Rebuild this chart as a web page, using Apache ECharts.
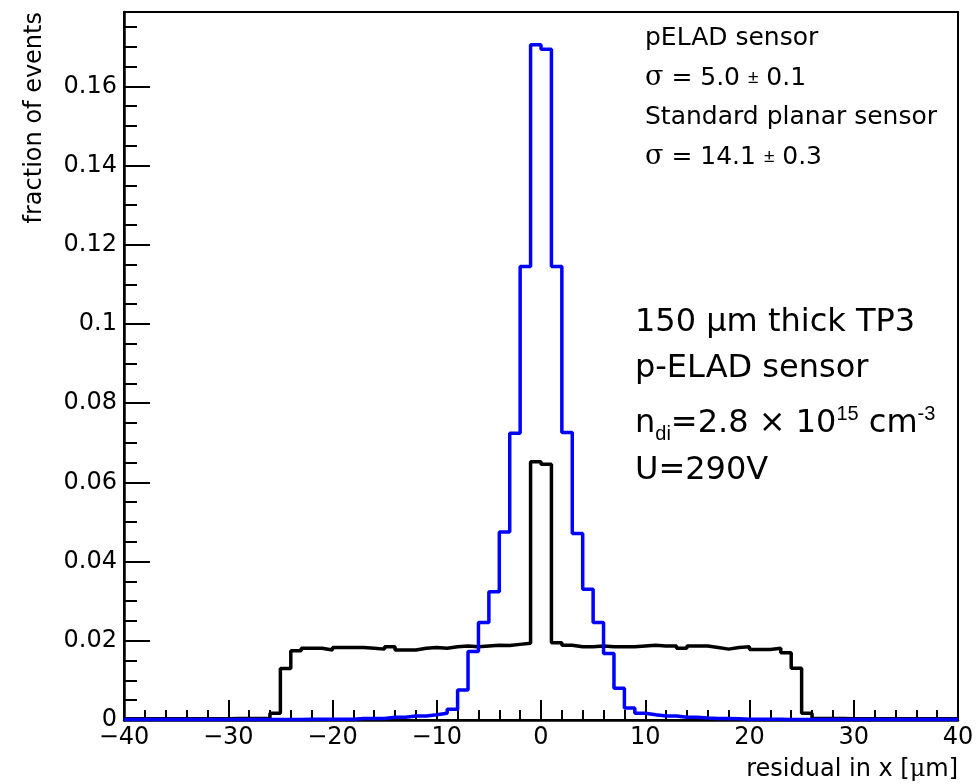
<!DOCTYPE html>
<html>
<head>
<meta charset="utf-8">
<script src="https://cdn.jsdelivr.net/npm/echarts@6/dist/echarts.min.js"></script>
<style>
  html, body { margin: 0; padding: 0; background: #fff; }
  #chart { width: 978px; height: 784px; }
</style>
</head>
<body>
<div id="chart"></div>
<script>
// histogram binning: 80 bins of 1 um from -40 to 40
const X_MIN = -40;
const X_MAX = 40;
const BIN_W = 1;

// standard planar sensor (black), bins -40 .. 39
const planar = [
  0.0003, 0.0003, 0.0003, 0.0003, 0.0003, 0.0003, 0.0003, 0.0003, 0.0003, 0.0003,
  0.0004, 0.0004, 0.0004, 0.0004,
  0.0017, 0.0130, 0.0175, 0.0181, 0.0181, 0.0177, 0.0183, 0.0183, 0.0183, 0.0181,
  0.0179, 0.0185, 0.0177, 0.0177, 0.0181, 0.0183, 0.0181, 0.0185, 0.0187, 0.0185,
  0.0187, 0.0189, 0.0188, 0.0191, 0.0194, 0.0652,
  0.0646, 0.0195, 0.0189, 0.0185, 0.0185, 0.0187, 0.0185, 0.0185, 0.0185, 0.0187,
  0.0189, 0.0187, 0.0187, 0.0181, 0.0187, 0.0187, 0.0183, 0.0179, 0.0183, 0.0185,
  0.0178, 0.0178, 0.0181, 0.0170, 0.0131, 0.0017,
  0.0004, 0.0004, 0.0004, 0.0003, 0.0003, 0.0003, 0.0003, 0.0003, 0.0003, 0.0003,
  0.0003, 0.0003, 0.0003, 0.0003
];

// pELAD sensor (blue), bins -40 .. 39
const pelad = [
  0.0001, 0.0001, 0.0001, 0.0001, 0.0001, 0.0001, 0.0001, 0.0001, 0.0001, 0.0001,
  0.0001, 0.0001, 0.0001, 0.0001, 0.0001, 0.0001, 0.0001,
  0.0002, 0.0002, 0.0002, 0.0002, 0.0002,
  0.0004, 0.0004, 0.0004,
  0.0007, 0.0007, 0.0010, 0.0010, 0.0013, 0.0017, 0.0027, 0.0076, 0.0173, 0.0246,
  0.0324, 0.0475, 0.0724, 0.1145, 0.1705,
  0.1694, 0.1145, 0.0726, 0.0471, 0.0330, 0.0246, 0.0168, 0.0080, 0.0030, 0.0017,
  0.0013, 0.0010, 0.0010, 0.0007, 0.0007, 0.0005, 0.0004, 0.0004, 0.0003,
  0.0002, 0.0002, 0.0002, 0.0002,
  0.0001, 0.0001, 0.0001, 0.0001, 0.0001, 0.0001, 0.0001, 0.0001, 0.0001, 0.0001,
  0.0001, 0.0001, 0.0001, 0.0001, 0.0001, 0.0001, 0.0001
];

const X_TICK = 10;
const Y_TICK = 0.02;
const Y_MAX = 0.1788;

const FONT = 'DejaVu Sans';

// step histogram: point at each low edge, plus closing point at upper edge
function histData(vals) {
  const pts = vals.map((v, i) => [X_MIN + i * BIN_W, v]);
  pts.push([X_MAX, vals[vals.length - 1]]);
  return pts;
}

const fmtX = v => (v < 0 ? '\u2212' + (-v) : String(v));
const fmtY = v => {
  const k = v / Y_TICK;
  if (Math.abs(k - Math.round(k)) > 1e-6) return '';
  return String(+v.toFixed(2));
};

const chart = echarts.init(document.getElementById('chart'), null, { renderer: 'canvas' });

chart.setOption({
  animation: false,
  backgroundColor: '#fff',
  grid: {
    left: 124, right: 20, top: 12, bottom: 64,
    show: true, borderColor: '#000', borderWidth: 2, backgroundColor: 'transparent',
  },
  xAxis: {
    type: 'value', min: X_MIN, max: X_MAX, interval: X_TICK,
    axisLine: { onZero: false, lineStyle: { color: '#000', width: 2.5 } },
    axisTick: { inside: true, length: 20, lineStyle: { color: '#000', width: 2 } },
    minorTick: { show: true, splitNumber: 5, length: 10, lineStyle: { color: '#000', width: 2 } },
    splitLine: { show: false },
    axisLabel: { color: '#000', fontSize: 24, fontFamily: FONT, margin: 6, formatter: fmtX },
  },
  yAxis: {
    type: 'value', min: 0, max: Y_MAX, interval: Y_TICK,
    axisLine: { onZero: false, lineStyle: { color: '#000', width: 2.5 } },
    axisTick: { inside: true, length: 26, lineStyle: { color: '#000', width: 2 } },
    minorTick: { show: true, splitNumber: 4, length: 13, lineStyle: { color: '#000', width: 2 } },
    splitLine: { show: false },
    axisLabel: { color: '#000', fontSize: 24, fontFamily: FONT, margin: 7, formatter: fmtY },
  },
  series: [
    {
      name: 'Standard planar sensor', type: 'line', step: 'end', symbol: 'none',
      data: histData(planar),
      lineStyle: { color: '#000', width: 3.5 },
    },
    {
      name: 'pELAD sensor', type: 'line', step: 'end', symbol: 'none',
      data: histData(pelad),
      lineStyle: { color: '#0000ff', width: 3.5 },
    },
  ],
  graphic: [
    // axis titles
    {
      type: 'text', x: 958, y: 770,
      style: {
        text: 'residual in x [{g|\u03bc}m]', align: 'right', verticalAlign: 'middle',
        font: '24px "DejaVu Sans"', fill: '#000',
        rich: { g: { fontFamily: 'DejaVu Serif', fontSize: 24 } },
      },
    },
    {
      type: 'text', x: 35, y: 12, rotation: Math.PI / 2,
      style: {
        text: 'fraction of events', align: 'right', verticalAlign: 'middle',
        font: '24px "DejaVu Sans"', fill: '#000',
      },
    },
    // fit results
    {
      type: 'text', x: 645, y: 38,
      style: { text: 'pELAD sensor', verticalAlign: 'middle', font: '25px "DejaVu Sans"', fill: '#000' },
    },
    {
      type: 'text', x: 645, y: 78,
      style: {
        text: '{s|\u03c3} = 5.0 {pm|\u00b1} 0.1', verticalAlign: 'middle',
        font: '25px "DejaVu Sans"', fill: '#000',
        rich: { s: { fontFamily: 'DejaVu Serif', fontSize: 27 }, pm: { fontSize: 19 } },
      },
    },
    {
      type: 'text', x: 645, y: 117,
      style: { text: 'Standard planar sensor', verticalAlign: 'middle', font: '25px "DejaVu Sans"', fill: '#000' },
    },
    {
      type: 'text', x: 645, y: 157,
      style: {
        text: '{s|\u03c3} = 14.1 {pm|\u00b1} 0.3', verticalAlign: 'middle',
        font: '25px "DejaVu Sans"', fill: '#000',
        rich: { s: { fontFamily: 'DejaVu Serif', fontSize: 27 }, pm: { fontSize: 19 } },
      },
    },
    // sample description
    {
      type: 'text', x: 635, y: 323,
      style: { text: '150 \u00b5m thick TP3', verticalAlign: 'middle', font: '32px "DejaVu Sans"', fill: '#000' },
    },
    {
      type: 'text', x: 635, y: 369,
      style: { text: 'p-ELAD sensor', verticalAlign: 'middle', font: '32px "DejaVu Sans"', fill: '#000' },
    },
    {
      type: 'text', x: 635, y: 424,
      style: {
        text: 'n{sub|di}=2.8 \u00d7 10{sup|15} cm{sup|-3}', verticalAlign: 'middle',
        font: '32px "DejaVu Sans"', fill: '#000',
        rich: {
          sub: { fontSize: 20, verticalAlign: 'bottom', lineHeight: 36 },
          sup: { fontSize: 20, verticalAlign: 'top', lineHeight: 40 },
        },
      },
    },
    {
      type: 'text', x: 635, y: 471,
      style: { text: 'U=290V', verticalAlign: 'middle', font: '32px "DejaVu Sans"', fill: '#000' },
    },
  ],
});
</script>
</body>
</html>
